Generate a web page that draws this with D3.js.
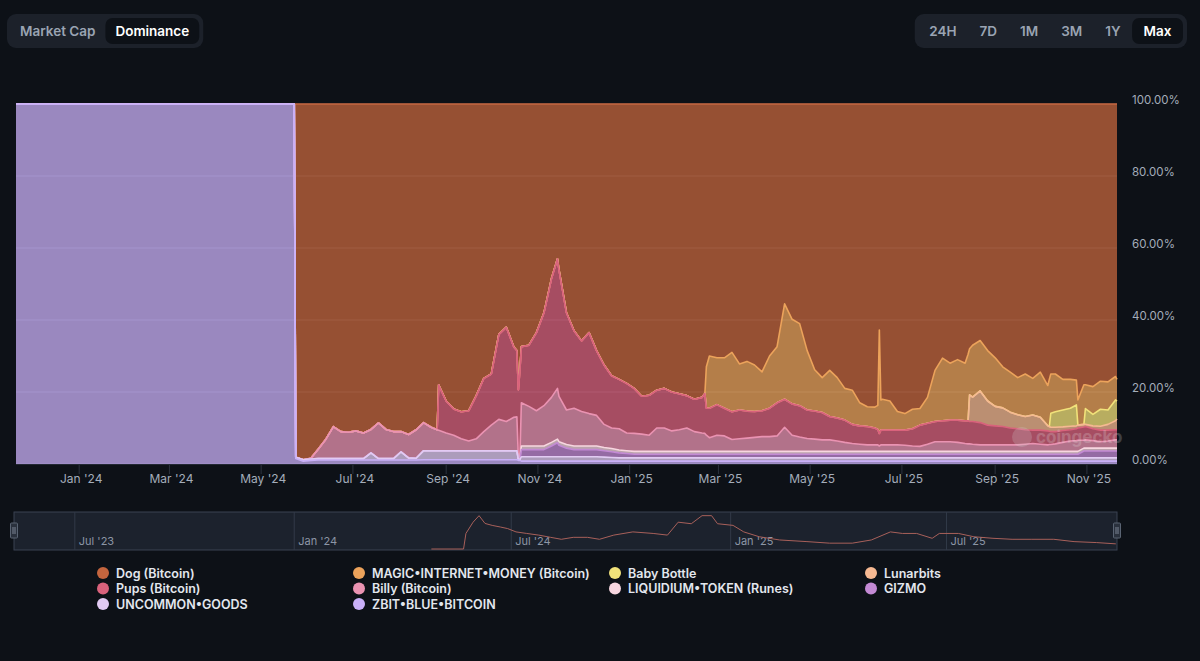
<!DOCTYPE html>
<html>
<head>
<meta charset="utf-8">
<script src="https://cdn.jsdelivr.net/npm/d3@7"></script>
<style>
  html, body { margin: 0; padding: 0; background: #0d1117; }
  body { width: 1200px; height: 661px; overflow: hidden; font-family: Inter, "Noto Sans", sans-serif; }
</style>
</head>
<body>
<div id="content"></div>
<script>
// dominance share of each coin, in %, one value per date
var dates = [
  "2023-11-20","2024-05-23",
  "2024-05-24","2024-05-29","2024-06-03","2024-06-08","2024-06-13","2024-06-18","2024-06-23","2024-06-28","2024-07-03","2024-07-08",
  "2024-07-13","2024-07-18","2024-07-23","2024-07-28","2024-08-02","2024-08-07","2024-08-12","2024-08-17","2024-08-22","2024-08-26",
  "2024-08-27","2024-09-01","2024-09-06","2024-09-11","2024-09-16","2024-09-21","2024-09-26","2024-10-01","2024-10-06","2024-10-11",
  "2024-10-16","2024-10-18","2024-10-19","2024-10-20","2024-10-21","2024-10-26","2024-10-31","2024-11-05","2024-11-10","2024-11-14",
  "2024-11-15","2024-11-20","2024-11-25","2024-11-30","2024-12-05","2024-12-10","2024-12-15","2024-12-20","2024-12-25","2024-12-30",
  "2025-01-04","2025-01-09","2025-01-14","2025-01-19","2025-01-24","2025-01-29","2025-02-03","2025-02-08","2025-02-13","2025-02-18",
  "2025-02-20","2025-02-21","2025-02-23","2025-02-28","2025-03-05","2025-03-10","2025-03-15","2025-03-20","2025-03-25","2025-03-30",
  "2025-04-04","2025-04-09","2025-04-14","2025-04-19","2025-04-24","2025-04-29","2025-05-04","2025-05-09","2025-05-14","2025-05-19",
  "2025-05-24","2025-05-29","2025-06-03","2025-06-08","2025-06-13","2025-06-15","2025-06-16","2025-06-17","2025-06-18","2025-06-23",
  "2025-06-28","2025-07-03","2025-07-08","2025-07-13","2025-07-18","2025-07-23","2025-07-28","2025-08-02","2025-08-07","2025-08-12",
  "2025-08-14","2025-08-15","2025-08-17","2025-08-22","2025-08-27","2025-09-01","2025-09-06","2025-09-11","2025-09-16","2025-09-21",
  "2025-09-26","2025-10-01","2025-10-06","2025-10-07","2025-10-08","2025-10-11","2025-10-16","2025-10-21","2025-10-25","2025-10-26",
  "2025-10-30","2025-10-31","2025-11-05","2025-11-10","2025-11-15","2025-11-20","2025-11-21"
];

var dog = [
  0, 0,
  98.1, 98.8, 98.4, 95.8, 93.1, 89.6, 91.0, 91.2, 90.8, 91.4,
  90.4, 88.6, 90.4, 91.0, 91.0, 91.8, 90.5, 88.5, 89.8, 90.5,
  78.0, 82.5, 84.7, 85.5, 85.2, 81.0, 76.2, 75.0, 64.0, 62.0,
  67.5, 68.5, 79.4, 74.0, 67.4, 67.0, 63.5, 58.0, 48.5, 43.0,
  46.0, 58.0, 63.0, 65.8, 63.5, 68.5, 72.5, 75.5, 76.5, 77.6,
  79.0, 81.2, 80.9, 79.5, 79.0, 80.0, 80.5, 81.0, 82.0, 81.5,
  80.4, 73.0, 70.0, 70.5, 70.5, 69.0, 72.2, 71.5, 72.5, 74.4,
  70.0, 67.4, 55.5, 59.8, 61.0, 68.5, 73.8, 76.0, 74.0, 76.0,
  79.0, 79.5, 83.0, 84.1, 84.2, 83.7, 62.8, 82.2, 82.0, 82.5,
  85.4, 86.0, 84.8, 84.6, 81.5, 74.0, 70.6, 72.0, 71.0, 72.0,
  69.5, 68.0, 67.0, 65.7, 68.5, 70.5, 73.0, 74.5, 76.0, 75.0,
  76.2, 74.5, 78.2, 76.5, 75.0, 75.0, 76.5, 76.5, 76.7, 82.2,
  78.0, 78.0, 78.5, 77.0, 77.2, 75.7, 76.5
];
var magic = [
  0, 0,
  0, 0, 0, 0, 0, 0, 0, 0, 0, 0,
  0, 0, 0, 0, 0, 0, 0, 0, 0, 0,
  0, 0, 0, 0, 0, 0, 0, 0, 0, 0,
  0, 0, 0, 0, 0, 0, 0, 0, 0, 0,
  0, 0, 0, 0, 0, 0, 0, 0, 0, 0,
  0, 0, 0, 0, 0, 0, 0, 0, 0, 0,
  0, 11.5, 14.5, 13.0, 14.0, 16.5, 12.8, 13.8, 12.9, 10.8,
  14.5, 15.6, 26.5, 23.5, 22.8, 16.5, 11.5, 9.7, 12.8, 11.2,
  8.8, 9.5, 6.4, 5.5, 5.8, 6.7, 28.7, 8.4, 8.6, 8.1,
  5.2, 4.6, 5.4, 4.6, 7.2, 14.2, 17.4, 15.8, 16.8, 16.0,
  18.5, 12.8, 14.4, 14.0, 14.0, 13.5, 11.4, 11.1, 10.3, 11.8,
  10.2, 12.5, 11.2, 13.1, 10.9, 10.5, 8.5, 8.0, 6.9, 7.0,
  11.0, 6.6, 7.7, 7.8, 7.8, 6.5, 6.0
];
var babyBottle = [
  0, 0,
  0, 0, 0, 0, 0, 0, 0, 0, 0, 0,
  0, 0, 0, 0, 0, 0, 0, 0, 0, 0,
  0, 0, 0, 0, 0, 0, 0, 0, 0, 0,
  0, 0, 0, 0, 0, 0, 0, 0, 0, 0,
  0, 0, 0, 0, 0, 0, 0, 0, 0, 0,
  0, 0, 0, 0, 0, 0, 0, 0, 0, 0,
  0, 0, 0, 0, 0, 0, 0, 0, 0, 0,
  0, 0, 0, 0, 0, 0, 0, 0, 0, 0,
  0, 0, 0, 0, 0, 0, 0, 0, 0, 0,
  0, 0, 0, 0, 0, 0, 0, 0, 0, 0,
  0, 0, 0, 0, 0, 0, 0, 0, 0, 0,
  0, 0, 0, 0, 3.9, 4.3, 4.7, 5.0, 5.8, 0,
  0, 4.4, 3.2, 4.7, 4.0, 5.8, 5.0
];
var lunarbits = [
  0, 0,
  0, 0, 0, 0, 0, 0, 0, 0, 0, 0,
  0, 0, 0, 0, 0, 0, 0, 0, 0, 0,
  0, 0, 0, 0, 0, 0, 0, 0, 0, 0,
  0, 0, 0, 0, 0, 0, 0, 0, 0, 0,
  0, 0, 0, 0, 0, 0, 0, 0, 0, 0,
  0, 0, 0, 0, 0, 0, 0, 0, 0, 0,
  0, 0, 0, 0, 0, 0, 0, 0, 0, 0,
  0, 0, 0, 0, 0, 0, 0, 0, 0, 0,
  0, 0, 0, 0, 0, 0, 0, 0, 0, 0,
  0, 0, 0, 0, 0, 0, 0, 0, 0, 0,
  0, 7.4, 6.8, 8.8, 6.7, 5.4, 5.2, 4.4, 3.9, 3.7,
  4.2, 3.6, 1.4, 1.3, 1.2, 1.2, 1.0, 1.0, 0.8, 0.8,
  0.7, 0.6, 0.8, 1.1, 1.6, 2.5, 3.0
];
var pups = [
  0, 0,
  0, 0, 0, 0, 0, 0, 0, 0, 0, 0,
  0, 0, 0, 0, 0, 0, 0, 0, 0, 0,
  12.6, 8.9, 7.3, 7.5, 8.4, 12.0, 14.8, 14.2, 23.6, 26.2,
  19.5, 18.4, 19.1, 24.5, 15.6, 17.0, 21.7, 25.8, 33.0, 36.0,
  35.2, 27.0, 21.5, 19.6, 22.5, 18.0, 16.5, 14.5, 13.7, 13.8,
  12.5, 10.5, 11.1, 10.5, 11.0, 10.8, 10.0, 9.0, 9.0, 9.9,
  11.1, 7.5, 8.2, 8.5, 7.7, 7.7, 8.0, 7.5, 7.2, 7.2,
  7.9, 9.2, 7.8, 8.7, 8.7, 7.9, 7.8, 7.6, 6.5, 6.4,
  6.2, 5.3, 5.1, 5.1, 4.7, 4.3, 3.5, 4.1, 4.1, 4.1,
  4.1, 4.2, 4.8, 5.9, 5.8, 5.6, 5.8, 6.0, 6.2, 6.3,
  6.4, 6.2, 6.3, 6.2, 5.5, 5.3, 5.1, 4.7, 4.5, 4.0,
  3.7, 3.9, 3.9, 3.7, 3.6, 3.4, 3.3, 3.1, 3.3, 3.4,
  3.7, 3.7, 3.3, 3.2, 3.0, 2.8, 2.8
];
var billy = [
  0, 0,
  0, 0, 0.2, 2.7, 5.4, 8.9, 7.5, 7.3, 7.7, 7.1,
  6.5, 9.9, 8.1, 7.5, 5.6, 6.5, 7.9, 7.8, 6.5, 5.8,
  5.7, 4.9, 4.3, 3.3, 2.7, 3.3, 5.3, 7.1, 8.7, 8.1,
  9.3, 9.4, 0.2, 0.2, 12.0, 11.0, 9.8, 11.2, 12.5, 14.1,
  12.6, 9.6, 10.5, 9.6, 9.0, 8.5, 6.4, 5.7, 5.9, 4.9,
  5.0, 4.8, 4.5, 6.5, 6.5, 5.7, 6.0, 6.5, 5.5, 5.1,
  5.0, 4.5, 3.8, 4.5, 4.3, 3.3, 3.5, 3.7, 3.9, 4.1,
  4.1, 4.3, 6.7, 4.5, 4.0, 3.6, 3.4, 3.2, 3.2, 2.9,
  2.5, 2.2, 2.0, 1.8, 1.8, 1.8, 1.5, 1.8, 1.8, 1.8,
  1.8, 1.7, 1.5, 1.4, 2.0, 2.7, 2.7, 2.7, 2.5, 2.2,
  2.1, 2.1, 2.0, 1.8, 1.8, 1.8, 1.8, 1.8, 1.8, 2.0,
  2.2, 2.0, 1.8, 1.9, 1.9, 2.1, 2.5, 2.9, 3.0, 3.1,
  2.2, 2.3, 2.1, 1.8, 2.0, 2.3, 2.3
];
var liquidium = [
  0, 0,
  0, 0, 0, 0, 0, 0, 0, 0, 0, 0,
  0, 0, 0, 0, 0, 0, 0, 0, 0, 0,
  0, 0, 0, 0, 0, 0, 0, 0, 0, 0,
  0, 0, 0, 0, 1.0, 1.0, 1.0, 1.0, 1.0, 1.0,
  1.0, 1.0, 1.0, 1.0, 1.0, 1.0, 0.9, 0.9, 0.8, 0.8,
  0.8, 0.8, 0.8, 0.8, 0.8, 0.8, 0.8, 0.8, 0.8, 0.8,
  0.8, 0.8, 0.8, 0.8, 0.8, 0.8, 0.8, 0.8, 0.8, 0.8,
  0.8, 0.8, 0.8, 0.8, 0.8, 0.8, 0.8, 0.8, 0.8, 0.8,
  0.8, 0.8, 0.8, 0.8, 0.8, 0.8, 0.8, 0.8, 0.8, 0.8,
  0.8, 0.8, 0.8, 0.8, 0.8, 0.8, 0.8, 0.8, 0.8, 0.8,
  0.8, 0.8, 0.8, 0.8, 0.8, 0.8, 0.8, 0.8, 0.8, 0.8,
  0.8, 0.8, 0.8, 0.8, 0.8, 0.8, 0.8, 0.8, 0.8, 0.8,
  0.8, 0.8, 0.8, 0.8, 0.8, 0.8, 0.8
];
var gizmo = [
  0, 0,
  0, 0, 0, 0, 0, 0, 0, 0, 0, 0,
  0, 0, 0, 0, 0, 0, 0, 0, 0, 0,
  0, 0, 0, 0, 0, 0, 0, 0, 0, 0,
  0, 0, 0, 0, 2.0, 2.0, 2.0, 2.0, 3.0, 3.9,
  3.2, 2.4, 2.0, 2.0, 2.0, 2.0, 1.8, 1.6, 1.4, 1.2,
  1.0, 1.0, 1.0, 1.0, 1.0, 1.0, 1.0, 1.0, 1.0, 1.0,
  1.0, 1.0, 1.0, 1.0, 1.0, 1.0, 1.0, 1.0, 1.0, 1.0,
  1.0, 1.0, 1.0, 1.0, 1.0, 1.0, 1.0, 1.0, 1.0, 1.0,
  1.0, 1.0, 1.0, 1.0, 1.0, 1.0, 1.0, 1.0, 1.0, 1.0,
  1.0, 1.0, 1.0, 1.0, 1.0, 1.0, 1.0, 1.0, 1.0, 1.0,
  1.0, 1.0, 1.0, 1.0, 1.0, 1.0, 1.0, 1.0, 1.0, 1.0,
  1.0, 1.0, 1.0, 1.0, 1.0, 1.0, 1.0, 1.0, 1.0, 1.0,
  1.9, 1.9, 1.9, 1.9, 1.9, 1.9, 1.9
];
var uncommonGoods = [
  0, 0,
  0.4, 0.4, 0.4, 0.4, 0.4, 0.4, 0.4, 0.4, 0.4, 0.4,
  2.0, 0.4, 0.4, 0.4, 2.3, 0.6, 0.5, 2.5, 2.5, 2.5,
  2.5, 2.5, 2.5, 2.5, 2.5, 2.5, 2.5, 2.5, 2.5, 2.5,
  2.5, 2.5, 0.3, 0.3, 1.2, 1.2, 1.2, 1.2, 1.2, 1.2,
  1.2, 1.2, 1.2, 1.2, 1.2, 1.2, 1.1, 1.0, 0.9, 0.9,
  0.9, 0.9, 0.9, 0.9, 0.9, 0.9, 0.9, 0.9, 0.9, 0.9,
  0.9, 0.9, 0.9, 0.9, 0.9, 0.9, 0.9, 0.9, 0.9, 0.9,
  0.9, 0.9, 0.9, 0.9, 0.9, 0.9, 0.9, 0.9, 0.9, 0.9,
  0.9, 0.9, 0.9, 0.9, 0.9, 0.9, 0.9, 0.9, 0.9, 0.9,
  0.9, 0.9, 0.9, 0.9, 0.9, 0.9, 0.9, 0.9, 0.9, 0.9,
  0.9, 0.9, 0.9, 0.9, 0.9, 0.9, 0.9, 0.9, 0.9, 0.9,
  0.9, 0.9, 0.9, 0.9, 0.9, 0.9, 0.9, 0.9, 0.9, 0.9,
  0.9, 0.9, 0.9, 0.9, 0.9, 0.9, 0.9
];
var zbit = [
  100, 100,
  1.5, 0.8, 1.0, 1.1, 1.1, 1.1, 1.1, 1.1, 1.1, 1.1,
  1.1, 1.1, 1.1, 1.1, 1.1, 1.1, 1.1, 1.2, 1.2, 1.2,
  1.2, 1.2, 1.2, 1.2, 1.2, 1.2, 1.2, 1.2, 1.2, 1.2,
  1.2, 1.2, 1.0, 1.0, 0.8, 0.8, 0.8, 0.8, 0.8, 0.8,
  0.8, 0.8, 0.8, 0.8, 0.8, 0.8, 0.8, 0.8, 0.8, 0.8,
  0.8, 0.8, 0.8, 0.8, 0.8, 0.8, 0.8, 0.8, 0.8, 0.8,
  0.8, 0.8, 0.8, 0.8, 0.8, 0.8, 0.8, 0.8, 0.8, 0.8,
  0.8, 0.8, 0.8, 0.8, 0.8, 0.8, 0.8, 0.8, 0.8, 0.8,
  0.8, 0.8, 0.8, 0.8, 0.8, 0.8, 0.8, 0.8, 0.8, 0.8,
  0.8, 0.8, 0.8, 0.8, 0.8, 0.8, 0.8, 0.8, 0.8, 0.8,
  0.8, 0.8, 0.8, 0.8, 0.8, 0.8, 0.8, 0.8, 0.8, 0.8,
  0.8, 0.8, 0.8, 0.8, 0.8, 0.8, 0.8, 0.8, 0.8, 0.8,
  0.8, 0.8, 0.8, 0.8, 0.8, 0.8, 0.8
];

// legend order = top of the stack first
var seriesNames = ["Dog (Bitcoin)", "MAGIC•INTERNET•MONEY (Bitcoin)", "Baby Bottle", "Lunarbits",
  "Pups (Bitcoin)", "Billy (Bitcoin)", "LIQUIDIUM•TOKEN (Runes)", "GIZMO", "UNCOMMON•GOODS", "ZBIT•BLUE•BITCOIN"];
var seriesValues = [dog, magic, babyBottle, lunarbits, pups, billy, liquidium, gizmo, uncommonGoods, zbit];
var seriesColors = ["#c4653e", "#eca35b", "#f1e27a", "#f6b992", "#d9627c", "#ea93b2", "#f7d6e0", "#c38ad4", "#e2cbf3", "#c9b0f8"];

var yTicks = [0, 0.2, 0.4, 0.6, 0.8, 1];

// small navigator series under the chart
var navDates = ["2024-04-25","2024-05-22","2024-05-24","2024-05-30","2024-06-04","2024-06-09","2024-06-15","2024-06-22","2024-06-28","2024-07-05",
  "2024-07-14","2024-07-24","2024-08-03","2024-08-12","2024-08-22","2024-09-03","2024-09-13","2024-09-25","2024-10-11","2024-10-28",
  "2024-11-09","2024-11-18","2024-11-29","2024-12-08","2024-12-16","2024-12-21","2025-01-03","2025-01-12","2025-01-25","2025-02-11",
  "2025-03-06","2025-03-25","2025-04-13","2025-04-29","2025-05-15","2025-05-25","2025-06-06","2025-06-19","2025-06-25","2025-07-11",
  "2025-07-24","2025-08-09","2025-08-25","2025-09-10","2025-09-29","2025-10-16","2025-11-04","2025-11-20"];
var navValues = [0, 0, 16, 27.6, 34.3, 26.3, 24.3, 22.6, 21, 17.6,
  16, 14.3, 12, 10, 12, 12, 10, 14.3, 17.6, 16,
  14.3, 27.6, 26, 34.3, 34.3, 26, 24.3, 17.6, 12.6, 9.3,
  7.6, 6, 6, 9.3, 17.6, 16, 16, 11, 16, 16,
  12.6, 11, 10, 10, 10, 7.6, 6.6, 5.3];

var modeButtons = ["Market Cap", "Dominance"];
var rangeButtons = ["24H", "7D", "1M", "3M", "1Y", "Max"];

(function(d3) {
    var width = 1200, height = 661;
    var plot = {left: 16, right: 1117, top: 104, bottom: 464};
    var parse = d3.utcParse("%Y-%m-%d");
    var btnFont = 13.5;

    var svg = d3.select("#content").append("svg")
        .attr("viewBox", [0, 0, width, height])
        .attr("width", width).attr("height", height)
        .style("font-family", "Inter, 'Noto Sans', sans-serif");

    svg.append("rect").attr("width", width).attr("height", height).attr("fill", "#0d1117");

    // --- toggle groups at the top
    function buttonGroup(labels, active, left, pad) {
        var g = svg.append("g");
        var bg = g.append("rect").attr("y", 14).attr("height", 34).attr("rx", 9).attr("fill", "#1c212a");
        var sel = g.append("rect").attr("y", 18).attr("height", 26).attr("rx", 7).attr("fill", "#0d1117");
        var x = left + 3;
        labels.forEach(function(label) {
            var t = g.append("text")
                .attr("y", 36)
                .attr("text-anchor", "middle")
                .attr("font-size", btnFont).attr("font-weight", 600)
                .attr("fill", label === active ? "#ffffff" : "#9aa4b3")
                .text(label);
            var w = t.node().getComputedTextLength() + 2 * pad;
            t.attr("x", x + w / 2);
            if (label === active) sel.attr("x", x).attr("width", w);
            x += w;
        });
        bg.attr("x", left).attr("width", x + 4 - left);
        return x + 4 - left;
    }
    buttonGroup(modeButtons, "Dominance", 7, 10);
    var probe = svg.append("g").attr("opacity", 0);
    var totalW = 0;
    rangeButtons.forEach(function(l) {
        totalW += probe.append("text").attr("font-size", btnFont).attr("font-weight", 600).text(l)
            .node().getComputedTextLength() + 23;
    });
    probe.remove();
    buttonGroup(rangeButtons, "Max", 1187 - totalW - 7, 11.5);

    // --- data table and stack
    var table = dates.map(function(d, i) {
        var row = {date: parse(d)};
        seriesNames.forEach(function(name, k) { row[name] = seriesValues[k][i]; });
        return row;
    });
    var stack = d3.stack()
        .keys(seriesNames.slice().reverse())
        .offset(d3.stackOffsetExpand);
    var layers = stack(table);

    var x = d3.scaleUtc()
        .domain([parse("2023-11-20"), parse("2025-11-21")])
        .range([plot.left, plot.right]);
    var y = d3.scaleLinear().domain([0, 1]).range([plot.bottom, plot.top]);

    // grid
    svg.append("g").selectAll("line").data(yTicks).join("line")
        .attr("x1", plot.left).attr("x2", plot.right)
        .attr("y1", function(d) { return y(d); }).attr("y2", function(d) { return y(d); })
        .attr("stroke", "#3a4150").attr("stroke-width", 1);

    var area = d3.area()
        .x(function(d) { return x(d.data.date); })
        .y0(function(d) { return y(d[0]); })
        .y1(function(d) { return y(d[1]); });
    var line = d3.line()
        .x(function(d) { return x(d.data.date); })
        .y(function(d) { return y(d[1]); });

    // draw top series first, like the original
    var series = svg.append("g");
    seriesNames.forEach(function(name, k) {
        var layer = layers.find(function(l) { return l.key === name; });
        var g = series.append("g");
        g.append("path").datum(layer)
            .attr("fill", seriesColors[k]).attr("fill-opacity", 0.75)
            .attr("d", area);
        g.append("path").datum(layer)
            .attr("fill", "none")
            .attr("stroke", seriesColors[k]).attr("stroke-width", 1.6)
            .attr("stroke-linejoin", "round")
            .attr("d", line);
    });

    // watermark
    var wm = svg.append("g").attr("opacity", 0.22);
    wm.append("circle").attr("cx", 1022).attr("cy", 437).attr("r", 10).attr("fill", "#d8d8d8");
    wm.append("text").attr("x", 1036).attr("y", 443).attr("font-size", 17).attr("font-weight", 700)
        .attr("fill", "#e8e8e8").text("coingecko");

    // x axis
    var xTicks = d3.utcMonth.every(2).range(parse("2024-01-01"), parse("2025-11-22"));
    var xAxis = svg.append("g").attr("class", "axis xaxis");
    xAxis.selectAll("line").data(xTicks).join("line")
        .attr("x1", function(d) { return x(d); }).attr("x2", function(d) { return x(d); })
        .attr("y1", plot.bottom + 1).attr("y2", plot.bottom + 10)
        .attr("stroke", "#2d333e");
    xAxis.selectAll("text").data(xTicks).join("text")
        .attr("x", function(d) { return x(d) + 2; })
        .attr("y", plot.bottom + 19)
        .attr("text-anchor", "middle")
        .attr("font-size", 12).attr("fill", "#a4adba")
        .text(d3.utcFormat("%b '%y"));

    // y axis on the right
    svg.append("g").attr("class", "axis yaxis").selectAll("text").data(yTicks).join("text")
        .attr("x", 1132)
        .attr("y", function(d) { return y(d); })
        .attr("font-size", 11.5).attr("fill", "#a4adba")
        .text(d3.format(".2%"));

    // --- navigator
    var nav = {left: 14, right: 1117, top: 512, bottom: 550};
    var nx = d3.scaleUtc()
        .domain([parse("2023-05-11"), parse("2025-11-21")])
        .range([nav.left, nav.right]);
    var ny = d3.scaleLinear()
        .domain([0, d3.max(navValues) * 1.05])
        .range([nav.bottom - 1, nav.top + 2]);
    var ng = svg.append("g");
    ng.append("rect")
        .attr("x", nav.left).attr("y", nav.top)
        .attr("width", nav.right - nav.left).attr("height", nav.bottom - nav.top)
        .attr("fill", "#1c222d").attr("stroke", "#3a4252");
    var navTicks = d3.utcMonth.every(6).range(parse("2023-06-01"), parse("2025-11-21"));
    ng.selectAll("line.tick").data(navTicks).join("line").attr("class", "tick")
        .attr("x1", function(d) { return nx(d); }).attr("x2", function(d) { return nx(d); })
        .attr("y1", nav.top).attr("y2", nav.bottom)
        .attr("stroke", "#323a48");
    ng.selectAll("text").data(navTicks).join("text")
        .attr("x", function(d) { return nx(d) + 4; })
        .attr("y", nav.bottom - 5)
        .attr("font-size", 11).attr("fill", "#8c96a6")
        .text(d3.utcFormat("%b '%y"));
    ng.append("path")
        .datum(navDates.map(function(d, i) { return [parse(d), navValues[i]]; }))
        .attr("fill", "none").attr("stroke", "#a8605a").attr("stroke-width", 1)
        .attr("d", d3.line()
            .x(function(d) { return nx(d[0]); })
            .y(function(d) { return ny(d[1]); }));
    [nav.left, nav.right].forEach(function(hx) {
        ng.append("rect")
            .attr("x", hx - 3.5).attr("y", 523).attr("width", 7).attr("height", 15).attr("rx", 1)
            .attr("fill", "#2a313d").attr("stroke", "#5a6473");
        ng.append("line")
            .attr("x1", hx - 1).attr("x2", hx - 1).attr("y1", 527).attr("y2", 534).attr("stroke", "#7a8494");
        ng.append("line")
            .attr("x1", hx + 1).attr("x2", hx + 1).attr("y1", 527).attr("y2", 534).attr("stroke", "#7a8494");
    });

    // --- legend, 4 columns
    var legend = svg.append("g");
    seriesNames.forEach(function(name, k) {
        var col = k % 4, row = Math.floor(k / 4);
        var lx = 103 + col * 256, ly = 573 + row * 15.5;
        legend.append("circle").attr("cx", lx).attr("cy", ly).attr("r", 6).attr("fill", seriesColors[k]);
        legend.append("text")
            .attr("x", lx + 13).attr("y", ly + 4.5)
            .attr("font-size", 12.5).attr("font-weight", 600)
            .attr("fill", "#e3e7ee")
            .text(name);
    });
})(d3);
</script>
</body>
</html>
